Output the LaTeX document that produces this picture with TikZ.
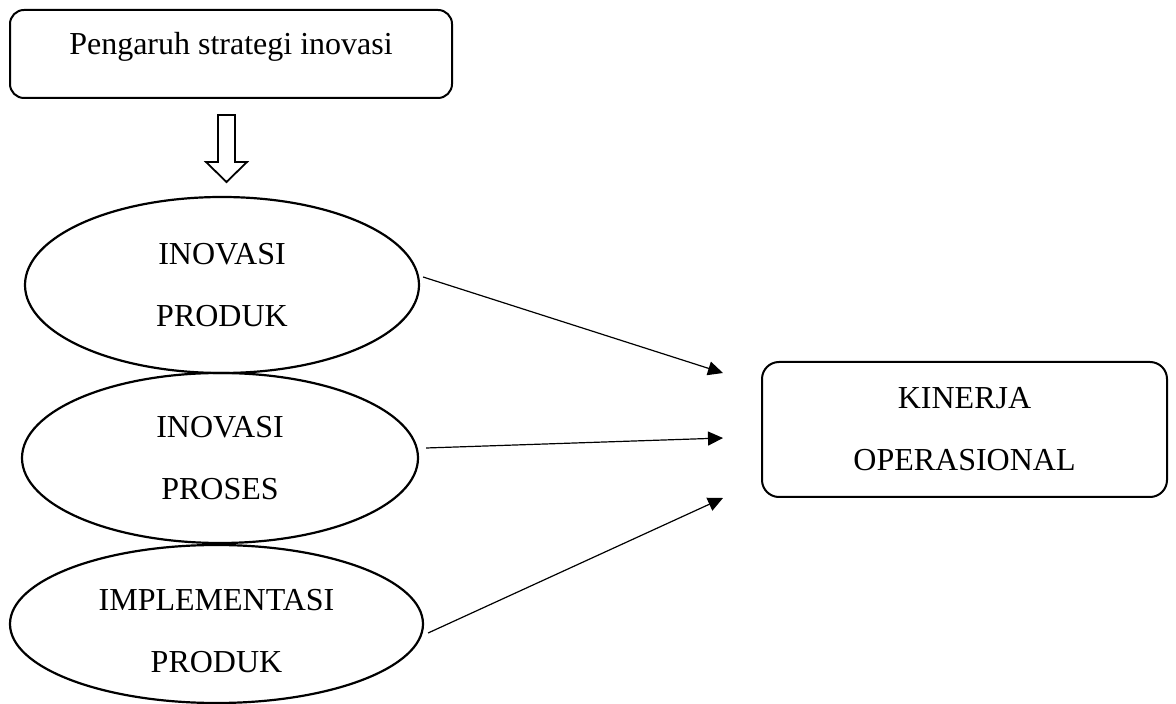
\documentclass[tikz,border=0pt]{standalone}
\usepackage{fontspec}
\setmainfont{Liberation Serif}
\usetikzlibrary{shapes.geometric,arrows.meta}
\begin{document}
\begin{tikzpicture}[x=0.5pt,y=-0.5pt,
  txt/.style={font=\fontsize{16}{31}\selectfont, align=center},
  rbox/.style={draw, line width=1pt, rounded corners=7pt, inner sep=0pt, txt},
  oval/.style={draw, ellipse, line width=1.1pt, inner sep=0pt, txt},
  conn/.style={line width=0.6pt, -{Triangle[length=7.5pt,width=7pt]}},
  hollow/.style={draw, line width=0.9pt, fill=white, line join=miter}]
\useasboundingbox (0,0) rectangle (1176,704);
\node[rbox, minimum width=221pt, text height=22.5pt, text depth=21.5pt] (top) at (231,54) {Pengaruh strategi inovasi};
\node[oval, minimum width=197pt, minimum height=88pt] (e1) at (222,285) {INOVASI\\PRODUK};
\node[oval, minimum width=198pt, minimum height=85pt] (e2) at (220,458) {INOVASI\\PROSES};
\node[oval, minimum width=206.5pt, minimum height=79pt] (e3) at (216.5,624) {\rule{0pt}{17.5pt}IMPLEMENTASI\\PRODUK};
\node[rbox, rounded corners=8.5pt, minimum width=202.5pt, minimum height=67.5pt] (kin) at (964.5,429.5) {KINERJA\\OPERASIONAL};
% hollow block arrow
\draw[hollow] (218,115) -- (235,115) -- (235,162) -- (247,162) -- (226.5,182) -- (206,162) -- (218,162) -- cycle;
\coordinate (t1) at (723,373);
\coordinate (t2) at (723,438);
\coordinate (t3) at (723,498);
\draw[conn] ([shift={(3,-8)}]e1.east) -- (t1);
\draw[conn] ([shift={(7,-10)}]e2.east) -- (t2);
\draw[conn] ([shift={(4,9)}]e3.east) -- (t3);
\end{tikzpicture}
\end{document}
